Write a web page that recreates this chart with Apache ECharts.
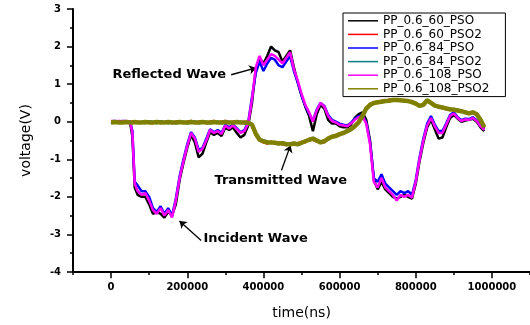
<!DOCTYPE html>
<html>
<head>
<meta charset="utf-8">
<style>
  html, body { margin: 0; padding: 0; background: #fff; }
  #chart { width: 530px; height: 325px; }
</style>
<script src="https://cdn.jsdelivr.net/npm/echarts@6/dist/echarts.min.js"></script>
</head>
<body>
<div id="chart"></div>
<script>
// Sample times (ns), shared by all six recordings
const timeNs = [
  0, 10000, 20000, 30000, 40000, 50000, 56000, 62000, 70000, 80000,
  90000, 100000, 110000, 120000, 130000, 140000, 150000, 160000, 170000, 180000,
  190000, 200000, 210000, 220000, 230000, 240000, 250000, 260000, 270000, 280000,
  290000, 300000, 310000, 320000, 330000, 340000, 350000, 360000, 370000, 380000,
  390000, 400000, 410000, 420000, 430000, 440000, 450000, 460000, 470000, 480000,
  490000, 500000, 510000, 520000, 530000, 540000, 550000, 560000, 570000, 580000,
  590000, 600000, 610000, 620000, 630000, 640000, 650000, 660000, 670000, 680000,
  690000, 700000, 710000, 720000, 730000, 740000, 750000, 760000, 770000, 780000,
  790000, 800000, 810000, 820000, 830000, 840000, 850000, 860000, 870000, 880000,
  890000, 900000, 910000, 920000, 930000, 940000, 950000, 960000, 970000, 980000
];

// Incident-bar gauges (V)
const pp60Pso = [
  0.0, 0.01, -0.01, 0.0, 0.01, -0.02, -0.4, -1.75, -1.95, -2.0,
  -2.0, -2.2, -2.45, -2.4, -2.45, -2.55, -2.4, -2.5, -2.2, -1.55,
  -1.1, -0.7, -0.35, -0.55, -0.95, -0.85, -0.55, -0.28, -0.35, -0.3,
  -0.38, -0.15, -0.22, -0.15, -0.3, -0.42, -0.35, -0.1, 0.5, 1.4,
  1.7, 1.55, 1.75, 2.0, 1.9, 1.85, 1.6, 1.75, 1.9, 1.45,
  1.05, 0.7, 0.4, 0.15, -0.25, 0.2, 0.45, 0.35, 0.05, -0.05,
  -0.05, -0.12, -0.15, -0.15, -0.08, 0.1, 0.2, 0.25, 0.05, -0.5,
  -1.55, -1.8, -1.6, -1.8, -1.9, -2.0, -2.05, -2.0, -1.95, -2.0,
  -2.05, -1.65, -1.05, -0.55, -0.15, 0.05, -0.2, -0.45, -0.42, -0.15,
  0.1, 0.18, 0.08, 0.0, 0.03, 0.05, 0.08, 0.0, -0.15, -0.25
];
const pp84Pso = [
  0.01, 0.02, 0.0, 0.02, 0.01, 0.0, -0.25, -1.6, -1.7, -1.85,
  -1.85, -2.0, -2.3, -2.4, -2.25, -2.45, -2.3, -2.5, -2.05, -1.45,
  -1.0, -0.6, -0.28, -0.42, -0.75, -0.7, -0.45, -0.2, -0.28, -0.22,
  -0.3, -0.08, -0.15, -0.08, -0.18, -0.28, -0.22, -0.02, 0.65, 1.3,
  1.6, 1.35, 1.55, 1.7, 1.65, 1.5, 1.45, 1.6, 1.75, 1.35,
  1.05, 0.7, 0.42, 0.22, 0.02, 0.32, 0.5, 0.42, 0.18, 0.05,
  0.0, -0.05, -0.08, -0.1, -0.03, 0.08, 0.15, 0.18, -0.02, -0.55,
  -1.5, -1.6, -1.4, -1.65, -1.75, -1.85, -1.95, -1.85, -1.9, -1.85,
  -1.95, -1.55, -0.95, -0.45, -0.05, 0.15, -0.08, -0.25, -0.25, -0.05,
  0.18, 0.25, 0.12, 0.04, 0.08, 0.07, 0.12, 0.04, -0.1, -0.2
];
const pp108Pso = [
  0.02, 0.01, 0.02, 0.01, 0.02, 0.0, -0.3, -1.65, -1.85, -1.95,
  -1.9, -2.1, -2.35, -2.45, -2.3, -2.5, -2.35, -2.55, -2.1, -1.5,
  -1.05, -0.65, -0.3, -0.45, -0.8, -0.72, -0.5, -0.22, -0.3, -0.25,
  -0.33, -0.1, -0.18, -0.1, -0.2, -0.3, -0.25, -0.05, 0.6, 1.45,
  1.75, 1.5, 1.65, 1.8, 1.75, 1.65, 1.55, 1.7, 1.85, 1.4,
  1.1, 0.75, 0.45, 0.25, 0.0, 0.3, 0.5, 0.4, 0.15, 0.02,
  -0.02, -0.08, -0.1, -0.12, -0.05, 0.05, 0.12, 0.15, -0.05, -0.6,
  -1.6, -1.75, -1.5, -1.75, -1.85, -1.95, -2.1, -1.95, -2.0, -1.95,
  -2.02, -1.6, -1.0, -0.5, -0.1, 0.1, -0.12, -0.3, -0.3, -0.08,
  0.15, 0.22, 0.1, 0.02, 0.06, 0.05, 0.1, 0.02, -0.12, -0.22
];

// Transmission-bar gauges (V)
const pp60Pso2 = [
  0.0, -0.03, 0.01, -0.02, 0.0, -0.04, 0.01, -0.02, 0.0, -0.03,
  0.01, -0.02, -0.04, 0.01, 0.0, -0.03, 0.01, -0.04, 0.0, 0.01,
  -0.03, 0.0, 0.02, -0.03, 0.0, 0.01, -0.04, 0.0, 0.02, -0.02,
  0.0, 0.02, -0.03, 0.0, 0.01, -0.03, 0.0, -0.01, -0.1, -0.36,
  -0.5, -0.55, -0.58, -0.53, -0.59, -0.56, -0.6, -0.62, -0.58, -0.61,
  -0.58, -0.54, -0.55, -0.46, -0.48, -0.53, -0.52, -0.55, -0.43, -0.42,
  -0.35, -0.36, -0.28, -0.27, -0.18, -0.14, 0.0, 0.12, 0.33, 0.47,
  0.52, 0.5, 0.56, 0.53, 0.59, 0.56, 0.6, 0.55, 0.58, 0.53,
  0.55, 0.46, 0.44, 0.43, 0.55, 0.52, 0.41, 0.42, 0.36, 0.37,
  0.31, 0.34, 0.28, 0.3, 0.23, 0.24, 0.23, 0.22, 0.03, -0.17
];
const pp84Pso2 = [
  -0.04, 0.0, -0.03, 0.01, -0.03, 0.0, -0.04, 0.01, -0.03, 0.0,
  -0.04, 0.01, -0.01, -0.04, 0.01, -0.01, -0.04, 0.0, -0.04, -0.03,
  0.0, -0.04, -0.03, 0.01, -0.04, -0.03, 0.0, -0.04, -0.03, 0.01,
  -0.04, -0.03, 0.0, -0.04, -0.03, 0.0, -0.04, -0.05, -0.06, -0.3,
  -0.46, -0.5, -0.53, -0.57, -0.54, -0.6, -0.55, -0.58, -0.62, -0.56,
  -0.62, -0.58, -0.5, -0.5, -0.43, -0.48, -0.57, -0.5, -0.47, -0.38,
  -0.4, -0.31, -0.32, -0.23, -0.22, -0.1, -0.04, 0.17, 0.37, 0.43,
  0.48, 0.54, 0.51, 0.57, 0.54, 0.6, 0.56, 0.59, 0.54, 0.57,
  0.5, 0.5, 0.4, 0.47, 0.59, 0.48, 0.45, 0.38, 0.4, 0.33,
  0.35, 0.3, 0.32, 0.26, 0.27, 0.2, 0.27, 0.18, 0.07, -0.13
];
const pp108Pso2 = [
  -0.02, -0.01, -0.02, -0.02, -0.01, -0.02, -0.02, -0.01, -0.02, -0.02,
  -0.01, -0.02, -0.02, -0.01, -0.02, -0.02, -0.01, -0.02, -0.02, -0.01,
  -0.02, -0.02, -0.01, -0.02, -0.02, -0.01, -0.02, -0.02, -0.01, -0.02,
  -0.02, -0.01, -0.02, -0.02, -0.01, -0.02, -0.02, -0.03, -0.08, -0.32,
  -0.48, -0.52, -0.55, -0.55, -0.56, -0.58, -0.57, -0.6, -0.6, -0.58,
  -0.6, -0.56, -0.52, -0.48, -0.45, -0.5, -0.55, -0.52, -0.45, -0.4,
  -0.38, -0.33, -0.3, -0.25, -0.2, -0.12, -0.02, 0.15, 0.35, 0.45,
  0.5, 0.52, 0.53, 0.55, 0.56, 0.58, 0.58, 0.57, 0.56, 0.55,
  0.52, 0.48, 0.42, 0.45, 0.57, 0.5, 0.43, 0.4, 0.38, 0.35,
  0.33, 0.32, 0.3, 0.28, 0.25, 0.22, 0.25, 0.2, 0.05, -0.15
];

const seriesNames = [
  'PP_0.6_60_PSO', 'PP_0.6_60_PSO2', 'PP_0.6_84_PSO',
  'PP_0.6_84_PSO2', 'PP_0.6_108_PSO', 'PP_0.6_108_PSO2'
];
const seriesValues = [pp60Pso, pp60Pso2, pp84Pso, pp84Pso2, pp108Pso, pp108Pso2];

// x-axis tick values that carry a label
const xTickLabels = [0, 200000, 400000, 600000, 800000, 1000000];

const colors = ['#000000', '#ff0000', '#0000ff', '#008080', '#ff00ff', '#808000'];
const widths = [2.5, 2.5, 2.5, 2.5, 2.5, 4.5];

// Wave callouts, positioned in data units (time ns, voltage V)
const callouts = [
  { text: 'Reflected Wave',   at: [3400, 1.25],     from: [315300, 1.25],  to: [381000, 1.43] },
  { text: 'Transmitted Wave', at: [271400, -1.57],  from: [447500, -1.29], to: [471100, -0.63] },
  { text: 'Incident Wave',    at: [242500, -3.1],   from: [236500, -3.16], to: [179500, -2.64] }
];

// plot frame geometry
const PLOT = { left: 73, right: 0, top: 9, bottom: 51.7 };
const X_MIN = -100000, X_MAX = 1100000;
const plotW = 530 - PLOT.left - PLOT.right;
const pxPerNs = plotW / (X_MAX - X_MIN);
const labelGridLeft = PLOT.left + (xTickLabels[0] - X_MIN) * pxPerNs;
const labelGridRight = 530 - (PLOT.left + (xTickLabels[xTickLabels.length - 1] - X_MIN) * pxPerNs);

const chart = echarts.init(document.getElementById('chart'), null, { renderer: 'canvas' });

const series = seriesNames.map((name, i) => ({
  name,
  type: 'line',
  xAxisIndex: 0,
  yAxisIndex: 0,
  data: timeNs.map((t, k) => [t, seriesValues[i][k]]),
  showSymbol: false,
  symbol: 'none',
  lineStyle: { color: colors[i], width: widths[i] },
  itemStyle: { color: colors[i] },
  emphasis: { disabled: true },
  animation: false,
  z: 2 + i
}));

// arrows of the callouts ride on the top-most series
series[series.length - 1].markLine = {
  silent: true,
  animation: false,
  symbol: ['none', 'arrow'],
  symbolSize: 7,
  label: { show: false },
  lineStyle: { color: '#000', width: 1.3, type: 'solid' },
  emphasis: { disabled: true },
  data: callouts.map(c => [{ coord: c.from }, { coord: c.to }])
};

const tickFont = { fontFamily: '"DejaVu Sans", sans-serif', fontWeight: 'bold', fontSize: 10, color: '#000' };

chart.setOption({
  animation: false,
  backgroundColor: '#ffffff',
  grid: [
    { left: PLOT.left, right: PLOT.right, top: PLOT.top, bottom: PLOT.bottom, containLabel: false },
    { left: labelGridLeft, right: labelGridRight, top: PLOT.top, bottom: PLOT.bottom, containLabel: false }
  ],
  xAxis: [
    {
      gridIndex: 0, type: 'value', min: X_MIN, max: X_MAX, interval: 100000,
      axisLine: { show: true, onZero: false, lineStyle: { color: '#000', width: 2 } },
      axisTick: { show: true, inside: false, length: 3, lineStyle: { color: '#000', width: 1.5 } },
      axisLabel: { show: false },
      splitLine: { show: false },
      name: 'time(ns)', nameLocation: 'middle', nameGap: 34,
      nameTextStyle: { fontFamily: '"DejaVu Sans", sans-serif', fontSize: 14, color: '#000' }
    },
    {
      gridIndex: 1, type: 'value', min: xTickLabels[0], max: xTickLabels[xTickLabels.length - 1], interval: 200000,
      axisLine: { show: false, onZero: false },
      axisTick: { show: true, inside: false, length: 5, lineStyle: { color: '#000', width: 1.5 } },
      axisLabel: Object.assign({ show: true, margin: 9, formatter: v => String(v) }, tickFont),
      splitLine: { show: false }
    }
  ],
  yAxis: [
    {
      gridIndex: 0, type: 'value', min: -4, max: 3, interval: 1,
      axisLine: { show: true, onZero: false, lineStyle: { color: '#000', width: 2 } },
      axisTick: { show: true, inside: false, length: 6, lineStyle: { color: '#000', width: 1.5 } },
      minorTick: { show: true, splitNumber: 2, length: 3, lineStyle: { color: '#000', width: 1.5 } },
      axisLabel: Object.assign({ show: true, margin: 12, formatter: v => String(v) }, tickFont),
      splitLine: { show: false },
      minorSplitLine: { show: false },
      name: 'voltage(V)', nameLocation: 'middle', nameGap: 40,
      nameTextStyle: { fontFamily: '"DejaVu Sans", sans-serif', fontSize: 14, color: '#000' }
    },
    {
      gridIndex: 1, type: 'value', min: -4, max: 3, show: false
    }
  ],
  legend: {
    data: seriesNames,
    orient: 'vertical',
    left: 343,
    top: 13,
    padding: [1, 16, 1, 5],
    itemGap: 0,
    itemWidth: 30,
    itemHeight: 1.5,
    icon: 'rect',
    borderColor: '#000',
    borderWidth: 1,
    backgroundColor: '#fff',
    selectedMode: false,
    textStyle: { fontFamily: '"DejaVu Sans", sans-serif', fontSize: 12, color: '#000', lineHeight: 13.6 },
    z: 20
  },
  series
});

// callout captions, placed through the axis scales
chart.setOption({
  graphic: callouts.map(c => {
    const p = chart.convertToPixel({ xAxisIndex: 0, yAxisIndex: 0 }, c.at);
    return {
      type: 'text',
      x: p[0],
      y: p[1],
      z: 30,
      style: {
        text: c.text,
        fill: '#000',
        font: 'bold 13px "DejaVu Sans", sans-serif',
        align: 'left',
        verticalAlign: 'middle'
      }
    };
  })
});
</script>
</body>
</html>
